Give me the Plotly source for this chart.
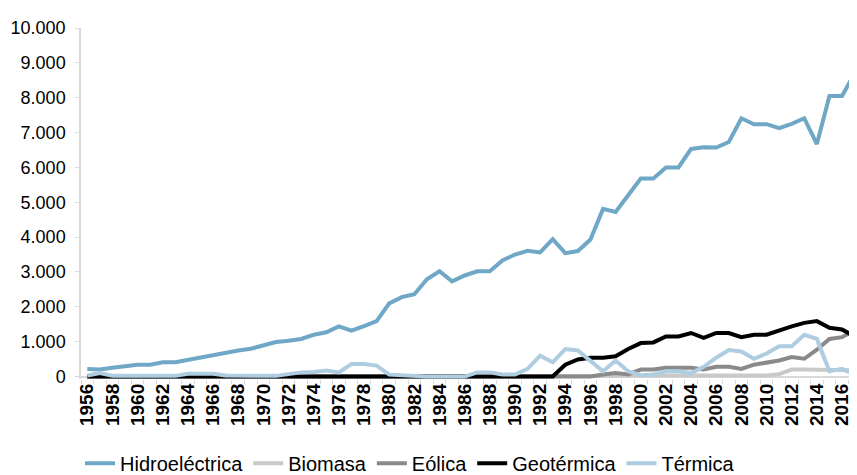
import plotly.graph_objects as go

years = list(range(1956, 2018))

hidroelectrica = [220, 200, 250, 290, 340, 340, 410, 410, 480, 540, 610, 690, 750, 800, 890, 990,
                  1030, 1080, 1200, 1270, 1440, 1320, 1450, 1590, 2100, 2280, 2360, 2790, 3020, 2730,
                  2900, 3020, 3020, 3330, 3500, 3610, 3560, 3940, 3540, 3600, 3930, 4810, 4720, 5180,
                  5680, 5680, 6000, 6000, 6530, 6580, 6570, 6730, 7410, 7240, 7240, 7130, 7250, 7410,
                  6670, 8050, 8050, 8700]

biomasa = [0] * 41 + [20, 20, 30, 30, 30, 30, 30, 30, 30, 30, 30, 30, 30, 30, 70, 200, 200, 200, 200, 200, 180]

eolica = [0] * 41 + [60, 100, 60, 200, 200, 250, 250, 250, 200, 280, 280, 220, 340, 410, 460, 560, 510,
                     770, 1080, 1130, 1330]

geotermica = [0] * 38 + [340, 490, 540, 540, 580, 790, 960, 980, 1150, 1150, 1250, 1110, 1250, 1250,
                         1130, 1200, 1200, 1330, 1440, 1540, 1590, 1400, 1350, 1150]

termica = [30, 100, 20, 20, 20, 20, 20, 20, 80, 80, 80, 30, 20, 20, 20, 20,
           60, 120, 130, 170, 120, 360, 360, 315, 55, 30, 0, 0, 0, 0,
           0, 120, 120, 60, 60, 220, 600, 410, 790, 750, 440, 150, 460, 150,
           30, 60, 150, 150, 100, 280, 540, 760, 720, 510, 660, 870, 870, 1200,
           1080, 150, 220, 60]

series = [
    ("Hidroeléctrica", hidroelectrica, "#6FA7C6"),
    ("Biomasa", biomasa, "#C9C9C9"),
    ("Eólica", eolica, "#8A8A8A"),
    ("Geotérmica", geotermica, "#000000"),
    ("Térmica", termica, "#AFCDE0"),
]

y_ticks = list(range(0, 10001, 1000))
y_labels = ["0" if v == 0 else f"{v // 1000}.000" for v in y_ticks]
x_ticks = list(range(1956, 2017, 2))

FONT = "Liberation Sans, Arial, sans-serif"

fig = go.Figure()
for name, vals, color in series:
    fig.add_trace(go.Scatter(x=years, y=vals, name=name, mode="lines",
                             line=dict(color=color, width=4)))

# the page body adds an 8px offset, so the figure is 849x467 and fills the 857x475 window
fig.update_layout(
    width=849, height=467,
    margin=dict(l=73, r=0, t=20, b=96, autoexpand=False),
    paper_bgcolor="white", plot_bgcolor="white",
    font=dict(family=FONT, color="#000000", size=19),
    showlegend=True,
    legend=dict(orientation="h", x=0.424, xanchor="center", y=-0.24, yanchor="middle",
                font=dict(size=20, family=FONT), itemwidth=30, tracegroupgap=0),
    xaxis=dict(
        range=[1955.5, 2017.19], tickmode="array", tickvals=x_ticks,
        ticktext=[f"<b>{v}</b>" for v in x_ticks], tickangle=-90,
        tickfont=dict(size=19, family=FONT), showgrid=False, zeroline=False,
        showline=False, ticks="", ticklen=0, automargin=False,
        minor=dict(tickmode="linear", tick0=1955.5, dtick=1, ticks="outside", ticklen=4,
                   tickcolor="#D9D9D9", showgrid=False),
    ),
    yaxis=dict(
        range=[-70, 10000], tickmode="array", tickvals=y_ticks, ticktext=y_labels,
        tickfont=dict(size=18, family=FONT), showgrid=False, zeroline=True,
        zerolinecolor="#D9D9D9", zerolinewidth=1.5,
        showline=True, linecolor="#D9D9D9", linewidth=1.5, automargin=False,
        ticks="outside", ticklen=4, tickcolor="#D9D9D9", ticklabelstandoff=6,
    ),
)

fig.write_html("out.html")
